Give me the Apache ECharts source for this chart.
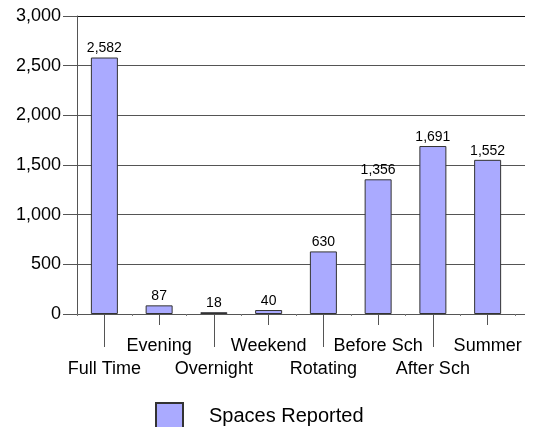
<!DOCTYPE html>
<html>
<head>
<meta charset="utf-8">
<script src="https://cdn.jsdelivr.net/npm/echarts@6/dist/echarts.min.js"></script>
<style>html,body{margin:0;padding:0;background:#fff}#c{width:534px;height:427px}</style>
</head>
<body>
<div id="c"></div>
<script>
var categories = ['Full Time', 'Evening', 'Overnight', 'Weekend', 'Rotating', 'Before Sch', 'After Sch', 'Summer'];
var spacesReported = [2582, 87, 18, 40, 630, 1356, 1691, 1552];
var seriesName = 'Spaces Reported';
var yMin = 0, yMax = 3000, yStep = 500;

var FONT = "'Liberation Sans', Arial, sans-serif";
var chart = echarts.init(document.getElementById('c'), null, {renderer: 'canvas'});
function fmt(v) { return Number(v).toLocaleString('en-US'); }
function isEven(i) { return i % 2 === 0; }
function isOdd(i) { return i % 2 === 1; }

var option = {
  animation: false,
  backgroundColor: '#fff',
  textStyle: {fontFamily: FONT},
  grid: [
    {left: 77, right: 19, top: 16, bottom: 113},
    {left: 77, right: 9, top: 16, bottom: 113}
  ],
  legend: {
    data: [seriesName],
    left: 150, top: 397,
    itemWidth: 27, itemHeight: 26,
    icon: 'rect',
    textStyle: {fontFamily: FONT, fontSize: 20, color: '#000', padding: [0, 0, 0, 21]}
  },
  xAxis: [
    {
      type: 'category', gridIndex: 0, data: categories, position: 'bottom',
      axisLine: {show: true, lineStyle: {color: '#555', width: 1}},
      axisTick: {show: true, alignWithLabel: true, length: 33, interval: function (i) { return isEven(i); }, lineStyle: {color: '#555'}},
      axisLabel: {interval: function (i) { return isEven(i); }, margin: 44, fontFamily: FONT, fontSize: 18, color: '#000', lineHeight: 22}
    },
    {
      type: 'category', gridIndex: 0, data: categories, position: 'bottom', offset: 0,
      axisLine: {show: false},
      axisTick: {show: true, alignWithLabel: true, length: 11, interval: function (i) { return isOdd(i); }, lineStyle: {color: '#555'}},
      axisLabel: {interval: function (i) { return isOdd(i); }, margin: 21, fontFamily: FONT, fontSize: 18, color: '#000', lineHeight: 22}
    },
    {
      type: 'category', gridIndex: 0, data: categories, position: 'bottom', offset: 0,
      axisLine: {show: false},
      axisTick: {show: true, alignWithLabel: false, length: 2, interval: 0, lineStyle: {color: '#777'}},
      axisLabel: {show: false}
    },
    {type: 'value', gridIndex: 1, show: false, min: 0, max: 1}
  ],
  yAxis: [
    {
      type: 'value', gridIndex: 0, min: yMin, max: yMax, interval: yStep,
      axisLine: {show: true, lineStyle: {color: '#555', width: 1}},
      axisTick: {show: true, length: 14, lineStyle: {color: '#555'}},
      axisLabel: {margin: 16, fontFamily: FONT, fontSize: 18, color: '#000', formatter: function (v) { return fmt(v); }},
      splitLine: {show: false}
    },
    {
      type: 'value', gridIndex: 1, min: yMin, max: yMax, interval: yStep,
      axisLine: {show: false}, axisTick: {show: false}, axisLabel: {show: false},
      splitLine: {show: true, showMinLine: true, showMaxLine: true, lineStyle: {color: ['#555', '#555', '#555', '#555', '#555', '#555', '#111'], width: 1}}
    }
  ],
  series: [
    {
      name: seriesName, type: 'bar', xAxisIndex: 0, yAxisIndex: 0,
      data: spacesReported,
      barWidth: 27,
      itemStyle: {color: '#aaaaff', borderColor: '#333', borderWidth: 1},
      label: {show: true, position: 'top', distance: 2, fontFamily: FONT, fontSize: 14, color: '#000', formatter: function (p) { return fmt(p.value); }}
    }
  ]
};
chart.setOption(option);
</script>
</body>
</html>
